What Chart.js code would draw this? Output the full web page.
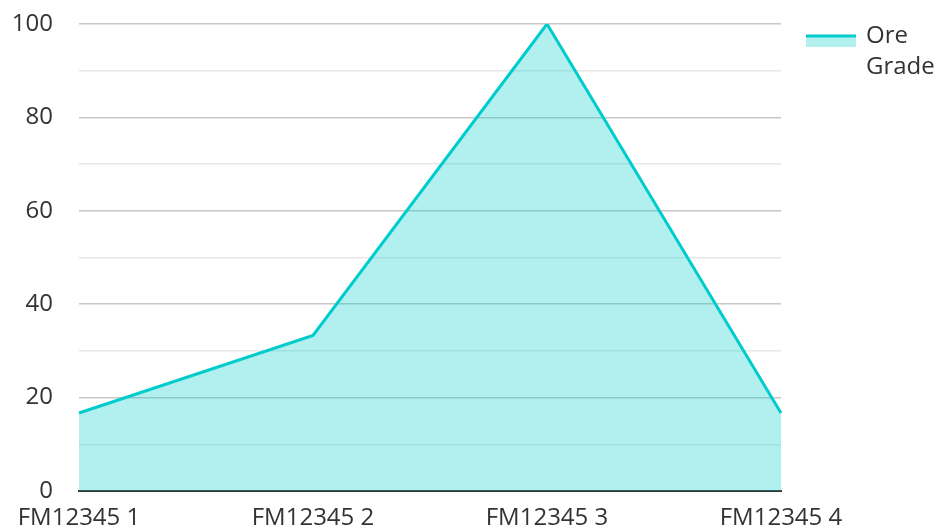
<!DOCTYPE html>
<html>
<head>
<meta charset="utf-8">
<script src="https://cdn.jsdelivr.net/npm/chart.js@4"></script>
<style>
  html, body { margin: 0; padding: 0; background: #fff; }
  #wrap { width: 938px; height: 532px; }
</style>
</head>
<body>
<div id="wrap"><canvas id="chart"></canvas></div>
<script>
// Chart data
const categories = ['FM12345 1', 'FM12345 2', 'FM12345 3', 'FM12345 4'];
const oreGrade = [16.7, 33.3, 100, 16.7];
const seriesName = ['Ore', 'Grade'];

const lineColor = '#00cccc';
const fillColor = 'rgba(0, 204, 204, 0.3)';
const textColor = '#333333';
const fontFamily = "'Open Sans', 'Noto Sans', sans-serif";

// Legend drawn by hand so the name can wrap on two lines
const sideLegend = {
  id: 'sideLegend',
  afterDraw(chart) {
    const ctx = chart.ctx;
    const x = 806, y = 36;
    ctx.save();
    ctx.fillStyle = fillColor;
    ctx.fillRect(x, y, 50, 11);
    ctx.strokeStyle = lineColor;
    ctx.lineWidth = 3;
    ctx.beginPath();
    ctx.moveTo(x, y);
    ctx.lineTo(x + 50, y);
    ctx.stroke();
    ctx.fillStyle = textColor;
    ctx.font = '24px ' + fontFamily;
    ctx.textBaseline = 'middle';
    seriesName.forEach((line, i) => ctx.fillText(line, 866, 36 + i * 31));
    ctx.restore();
  }
};

new Chart(document.getElementById('chart'), {
  type: 'line',
  data: {
    labels: categories,
    datasets: [{
      label: seriesName.join(' '),
      data: oreGrade,
      borderColor: lineColor,
      backgroundColor: fillColor,
      borderWidth: 3,
      fill: 'origin',
      tension: 0,
      pointRadius: 0
    }]
  },
  options: {
    responsive: true,
    maintainAspectRatio: false,
    animation: false,
    layout: { padding: { top: 24, right: 157, left: 0, bottom: 0 } },
    plugins: {
      legend: { display: false },
      tooltip: { enabled: false }
    },
    scales: {
      x: {
        offset: false,
        afterFit: (scale) => { scale.height = 41; },
        grid: { display: false, drawTicks: false },
        border: { display: true, color: '#333333', width: 2 },
        ticks: {
          color: textColor,
          font: { size: 24, family: fontFamily },
          padding: 13,
          maxRotation: 0,
          autoSkip: false
        }
      },
      y: {
        min: 0,
        max: 100,
        afterFit: (scale) => {
          scale.width = 79;
          scale.paddingTop = 0;
          scale.paddingBottom = 0;
        },
        border: { display: false },
        grid: {
          drawTicks: false,
          color: (c) => c.tick.value === 0 ? 'rgba(0,0,0,0)' : (c.tick.value % 20 === 0 ? '#c8c8c8' : '#e8e8e8'),
          lineWidth: 1.5
        },
        ticks: {
          stepSize: 10,
          color: textColor,
          font: { size: 24, family: fontFamily },
          padding: 26,
          callback: (v) => v % 20 === 0 ? v : ''
        }
      }
    }
  },
  plugins: [sideLegend]
});
</script>
</body>
</html>
